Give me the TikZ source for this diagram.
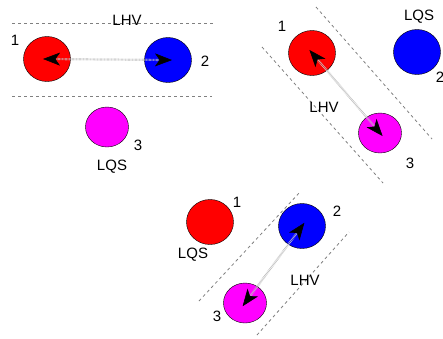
\documentclass[tikz,border=0pt]{standalone}
\usepackage{fontspec}
\setmainfont{Liberation Sans}
\usetikzlibrary{positioning, arrows.meta, shapes.geometric}
\definecolor{ballred}{RGB}{255,0,0}
\definecolor{ballblue}{RGB}{0,0,255}
\definecolor{ballmag}{RGB}{255,0,255}

\begin{document}
\begin{tikzpicture}
        [
            x=1pt, y=-1pt,
            ball/.style = {draw, black, ellipse, inner sep=0pt, minimum width=47pt, minimum height=45pt},
            small ball/.style = {ball, minimum width=43pt, minimum height=40pt},
            tag/.style = {font=\fontsize{15}{17}\selectfont, inner sep=0pt},
            guide/.style = {gray, dash pattern=on 3pt off 3pt, line width=0.8pt},
            link/.style = {<->, gray!50, line width=2.2pt, dash pattern=on 0.6pt off 0.8pt, shorten <=-4pt, shorten >=-4pt},
            >={Stealth[black, line width=0.6pt, length=17pt, width=13pt, inset=4.5pt]}
        ]%
        \useasboundingbox (0,0) rectangle (443,338);
        % top left: 1 and 2 in the band
        \node[ball, fill=ballred] (red1) at (47,59) {};
        \node[ball, fill=ballblue] (blue1) at (168,60) {};
        \node[small ball, fill=ballmag] (mag1) at (107,127) {};
        \coordinate (band1a) at (12,23);
        \coordinate (band1b) at (213,23);
        \coordinate (band1c) at (12,96);
        \coordinate (band1d) at (212,96);
        \draw[guide] (band1a) -- (band1b);
        \draw[guide] (band1c) -- (band1d);
        \draw[link] (red1.center) -- (blue1.center);
        \node[tag] (lhv1) at (127,20) {LHV};
        \node[tag] (one1) at (15,40) {1};
        \node[tag] (two1) at (205,61) {2};
        \node[tag] (three1) at (138,145) {3};
        \node[tag] (lqs1) at (112,167) {LQS};
        % top right: 1 and 3 in the band
        \node[ball, fill=ballred] (red2) at (312,53) {};
        \node[ball, fill=ballblue] (blue2) at (417,52) {};
        \node[small ball, fill=ballmag] (mag2) at (380,133) {};
        \coordinate (band2a) at (316,7);
        \coordinate (band2b) at (432,139);
        \coordinate (band2c) at (262,47);
        \coordinate (band2d) at (383,183);
        \draw[guide] (band2a) -- (band2b);
        \draw[guide] (band2c) -- (band2d);
        \draw[link] (red2.center) -- (mag2.center);
        \node[tag] (one2) at (282,26) {1};
        \node[tag] (lqs2) at (419,17) {LQS};
        \node[tag] (two2) at (440,77) {2};
        \node[tag] (lhv2) at (324,107) {LHV};
        \node[tag] (three2) at (410,163) {3};
        % bottom: 2 and 3 in the band
        \node[ball, fill=ballred] (red3) at (210,222) {};
        \node[ball, fill=ballblue] (blue3) at (302,226) {};
        \node[small ball, fill=ballmag] (mag3) at (245,303) {};
        \coordinate (band3a) at (199,301);
        \coordinate (band3b) at (300,192);
        \coordinate (band3c) at (257,335);
        \coordinate (band3d) at (349,232);
        \draw[guide] (band3a) -- (band3b);
        \draw[guide] (band3c) -- (band3d);
        \draw[link] (mag3.center) -- (blue3.center);
        \node[tag] (one3) at (237,202) {1};
        \node[tag] (two3) at (337,211) {2};
        \node[tag] (lqs3) at (193,255) {LQS};
        \node[tag] (lhv3) at (305,280) {LHV};
        \node[tag] (three3) at (217,316) {3};
        \end{tikzpicture}
\end{document}
